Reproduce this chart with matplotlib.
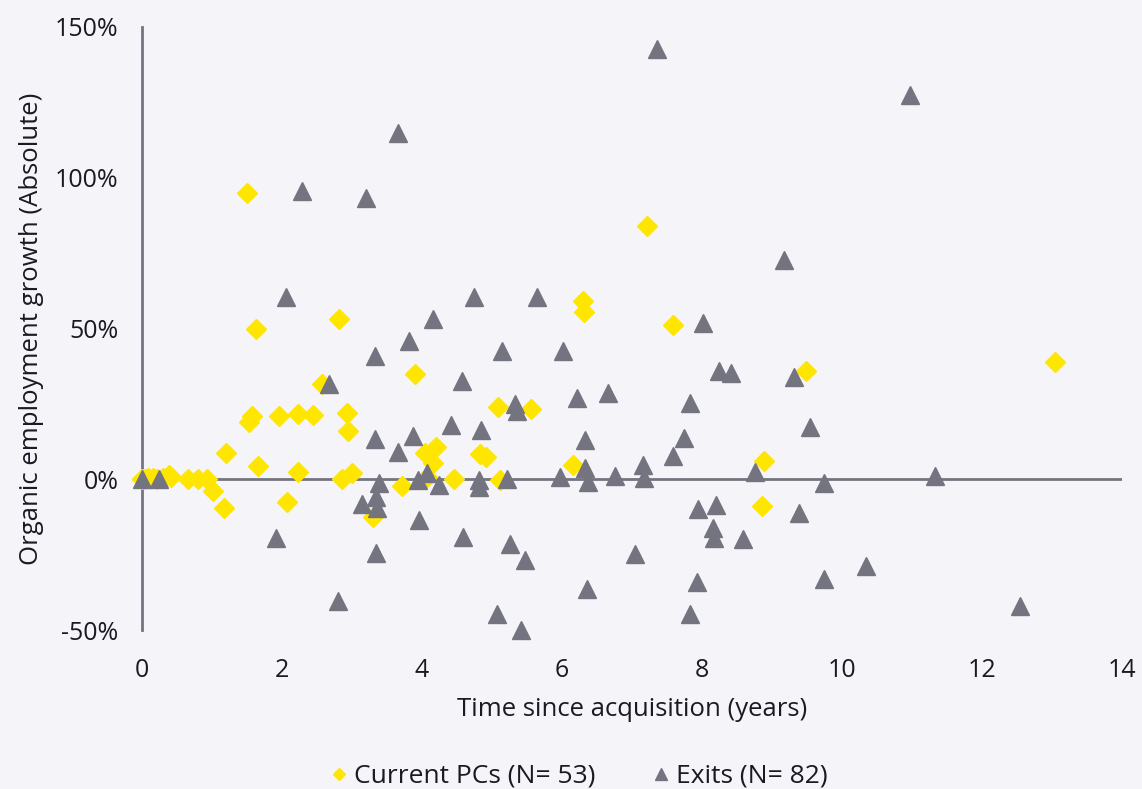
import matplotlib
matplotlib.use("Agg")
import matplotlib.pyplot as plt
from matplotlib.ticker import FuncFormatter

# Current portfolio companies: years since acquisition, organic employment growth (%)
pc_years = [0.0, 0.08, 0.16, 0.38, 0.41, 0.66, 0.8, 0.93, 1.01, 1.17, 1.2, 1.5,
            1.53, 1.57, 1.63, 1.66, 1.96, 2.07, 2.23, 2.23, 2.44, 2.57, 2.81, 2.86,
            2.93, 2.94, 3.0, 3.3, 3.71, 3.9, 4.04, 4.16, 4.2, 4.07, 4.46, 4.83,
            4.91, 5.09, 5.11, 5.56, 6.16, 6.3, 6.31, 7.21, 7.59, 8.88, 8.86, 9.49,
            13.04, 0.0, 0.05, 0.22, 0.3]
pc_growth = [0, 0.5, 0.5, 1.3, 0.7, 0, 0, 0, -4, -9.5, 8.6, 95,
             19, 21, 50, 4.3, 21, -7.5, 21.5, 2.3, 21.3, 31.5, 53, 0,
             22, 16, 2, -12.5, -2.3, 35, 8.6, 5.3, 10.6, 0.7, 0, 8.3,
             7.3, 24, -0.3, 23.2, 4.6, 59, 55.4, 84, 51, 6, -9, 36,
             39, 0, 0, 0, 0.5]

# Exits
ex_years = [0.0, 0.24, 1.91, 2.06, 2.29, 2.67, 2.8, 3.14, 3.2, 3.33, 3.33, 3.39,
            3.34, 3.36, 3.34, 3.66, 3.66, 3.81, 3.87, 3.94, 3.96, 4.07, 4.16, 4.24,
            4.41, 4.57, 4.59, 4.74, 4.81, 4.81, 4.84, 5.07, 5.14, 5.21, 5.26, 5.33,
            5.36, 5.41, 5.47, 5.64, 5.97, 6.01, 6.21, 6.33, 6.33, 6.37, 6.36, 6.66,
            6.76, 7.04, 7.16, 7.17, 7.36, 7.59, 7.74, 7.83, 7.83, 7.93, 7.94, 8.01,
            8.16, 8.17, 8.2, 8.24, 8.41, 8.59, 8.76, 9.17, 9.31, 9.39, 9.54, 9.74,
            9.74, 10.34, 10.97, 11.33, 12.54]
ex_growth = [0, 0, -19.5, 60.6, 95.5, 31.5, -40.4, -8.3, 93.4, 41, 13.2, -1.3,
             -6, -9.6, -24.5, 115, 9, 45.7, 14.5, -0.3, -13.6, 2, 53, -2,
             17.9, 32.5, -19.2, 60.6, -0.3, -2.6, 16.2, -44.7, 42.4, 0, -21.5, 25,
             22.5, -50, -26.8, 60.3, 0.7, 42.4, 27, 12.9, 3.6, -1, -36.4, 28.5,
             1, -24.8, 4.6, 0.3, 142.7, 7.6, 13.6, 25.2, -44.7, -34, -10, 51.7,
             -16.3, -19.5, -8.6, 35.8, 35.4, -19.9, 2.3, 72.8, 33.8, -11.3, 17.2, -1.3,
             -33, -28.8, 127.5, 1, -42]

x_ticks = [0, 2, 4, 6, 8, 10, 12, 14]
y_ticks = [-50, 0, 50, 100, 150]

bg = "#F5F5F9"
yellow = "#FFE600"
grey = "#747480"
text_col = "#1A1A24"

plt.rcParams["font.family"] = ["Open Sans", "DejaVu Sans"]

fig = plt.figure(figsize=(11.42, 7.89), dpi=100, facecolor=bg)
ax = fig.add_axes([0.1243, 0.2015, 0.8582, 0.7643], facecolor=bg)

ax.plot(pc_years, pc_growth, linestyle="none", marker="D", markersize=10.5,
        color=yellow, label="Current PCs (N= 53)", zorder=3, clip_on=False)
ax.plot(ex_years, ex_growth, linestyle="none", marker="^", markersize=13,
        color=grey, label="Exits (N= 82)", zorder=4, clip_on=False)

ax.axhline(0, color=grey, linewidth=2, zorder=2)
ax.set_xlim(0, 14)
ax.set_ylim(-50, 150)
ax.set_xticks(x_ticks)
ax.set_yticks(y_ticks)
ax.yaxis.set_major_formatter(FuncFormatter(lambda v, p: f"{v:.0f}%"))

for s in ["top", "right", "bottom"]:
    ax.spines[s].set_visible(False)
ax.spines["left"].set_color(grey)
ax.spines["left"].set_linewidth(2)
ax.spines["left"].set_zorder(1)

ax.tick_params(axis="both", length=0, labelsize=18, labelcolor=text_col)
ax.tick_params(axis="x", pad=20)
ax.tick_params(axis="y", pad=17)

ax.set_xlabel("Time since acquisition (years)", fontsize=18.5, color=text_col, labelpad=10)
ax.set_ylabel("Organic employment growth (Absolute)", fontsize=18.5, color=text_col, labelpad=8)

fig.legend(loc="lower center", bbox_to_anchor=(0.505, -0.03), ncol=2, frameon=False,
           fontsize=19, markerscale=0.62, handletextpad=0.05, columnspacing=2.0,
           handlelength=1.0, labelcolor=text_col)

fig.savefig("out.png", dpi=100, facecolor=bg)
